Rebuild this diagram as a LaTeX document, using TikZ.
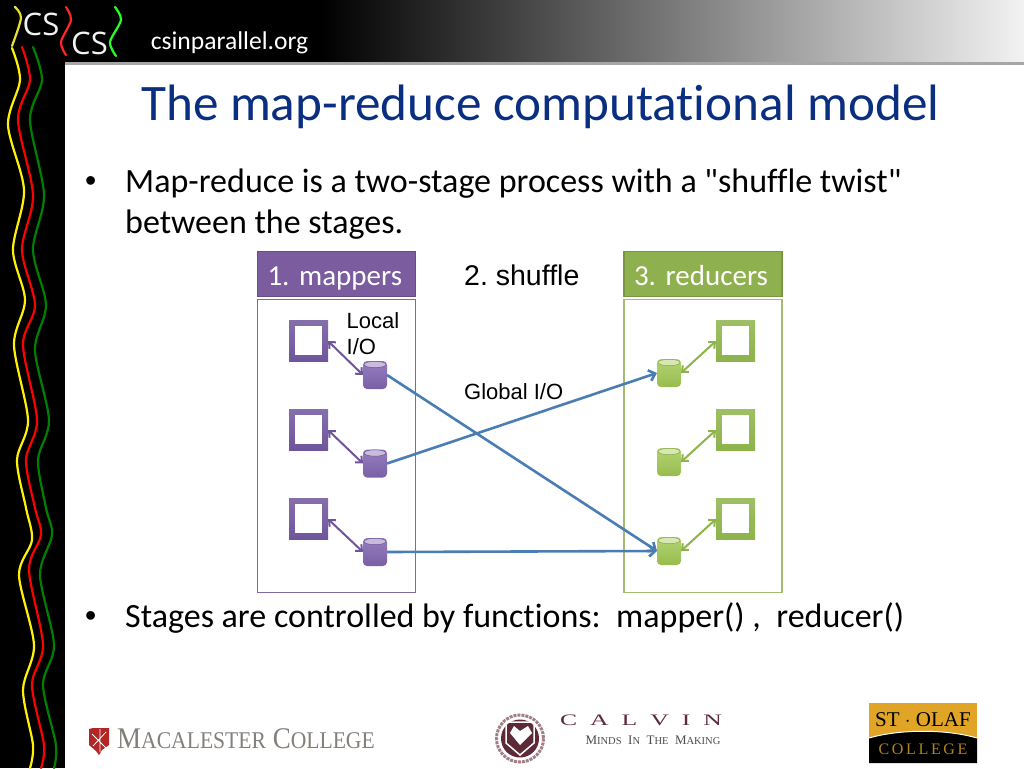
\documentclass[tikz,border=0pt]{standalone}
\usepackage{fontspec}
\setmainfont{Carlito}[Ligatures={TeXOff,NoCommon}]
\newfontfamily\arialfont{Liberation Sans}
\newfontfamily\seriffont{Liberation Serif}
\newfontfamily\logofont{Open Sans}
\usepackage{xcolor}
\usetikzlibrary{positioning,arrows.meta}
\definecolor{titleblue}{HTML}{0B2F80}
\definecolor{mapdark}{HTML}{6F559C}
\definecolor{mapmid}{HTML}{8467B4}
\definecolor{mapline}{HTML}{7D6AA0}
\definecolor{maphead}{HTML}{7A5C9F}
\definecolor{redline}{HTML}{A6BA74}
\definecolor{reddark}{HTML}{8DB34A}
\definecolor{redmid}{HTML}{A5CC57}
\definecolor{redhead}{HTML}{8FB04E}
\definecolor{linkblue}{HTML}{4A7DB3}
\definecolor{macgray}{HTML}{857F7A}
\definecolor{calvinred}{HTML}{5F2A38}
\definecolor{olafgold}{HTML}{E0A526}
\tikzset{
	px/.style={font=\fontsize{#1}{#1}\selectfont, inner sep=0pt},
	bodytext/.style={px=34, anchor=base west, text=black},
	sanstext/.style={font=\arialfont\fontsize{#1}{#1}\selectfont, inner sep=0pt, anchor=base west, text=black},
	panel/.style={draw=#1, line width=1.2pt, fill=white, minimum width=158pt, minimum height=293pt, inner sep=0pt, outer sep=0pt},
	headbox/.style={draw=#1!85!black, line width=1.2pt, fill=#1, minimum width=158pt, minimum height=45pt, font=\fontsize{29}{29}\selectfont, text=white, inner sep=0pt, outer sep=0pt, text width=148pt, align=left, text height=22pt, text depth=0pt, execute at begin node=\hspace*{5pt}},
	framebox/.style={top color=#1!85!white, bottom color=#1, minimum width=39pt, minimum height=41pt, inner sep=0pt, outer sep=0pt,
		path picture={\fill[white] ([shift={(6pt,7pt)}]path picture bounding box.south west) rectangle ([shift={(-6pt,-5pt)}]path picture bounding box.north east);}},
	disk/.style 2 args={rounded corners=4pt, top color=#1!85!white, bottom color=#1!92!black, minimum width=24pt, minimum height=28pt, inner sep=0pt, outer sep=0pt,
		path picture={\filldraw[fill=#2, draw=#1!80!black, line width=0.5pt] ([yshift=-3.5pt]path picture bounding box.north) ellipse[x radius=11pt, y radius=3.2pt];}},
	localio/.style={draw=#1, line width=2pt, {Straight Barb[length=5pt,width=9pt]}-{Straight Barb[length=5pt,width=9pt]}},
	globalio/.style={draw=linkblue, line width=2.6pt, -{Straight Barb[length=6pt,width=11pt]}},
	wavy/.style={draw=#1, line width=2.2pt, line cap=round},
}

\begin{document}
\frenchspacing
\begin{tikzpicture}[x=1pt, y=-1pt]
	\useasboundingbox (0,0) rectangle (1024,768);
	% Slide frame
	\fill[black] (0,0) rectangle (1024,768);
	\fill[white] (65,64) rectangle (1024,768);
	\shade[left color=black, right color=black!5] (320,0) rectangle (1024,62);
	\fill[black!35] (65,62) rectangle (1024,64.5);
	% Coloured wires
	\draw[wavy=yellow!80!gray] plot[smooth] coordinates {(15,7) (21,18) (12,46)};
	\draw[wavy=yellow] plot[smooth] coordinates {(12,48) (20,80) (8,125) (24,190) (13,250) (25,300) (14,345) (28,420) (17,460) (26,508) (32,540) (19,575) (34,645) (23,690) (33,745) (30,768)};
	\draw[wavy=red] plot[smooth] coordinates {(22,47) (30,80) (18,120) (33,195) (22,250) (35,305) (23,345) (37,420) (26,460) (35,508) (41,535) (29,570) (43,645) (32,685) (44,745) (41,768)};
	\draw[wavy=green!50!black] plot[smooth] coordinates {(33,47) (42,80) (30,120) (44,195) (33,250) (46,305) (35,350) (49,420) (38,460) (46,508) (52,535) (40,575) (54,645) (43,685) (56,745) (54,768)};
	\draw[wavy=red!85!white] plot[smooth] coordinates {(66,7) (71,20) (61,42) (66,55)};
	\draw[wavy=green!85!white] plot[smooth] coordinates {(115,7) (121,20) (110,42) (116,56)};
	\node[inner sep=0pt, text=white!90!gray, font=\logofont\fontsize{31}{31}\selectfont] (csA) at (41,24) {CS};
	\node[inner sep=0pt, text=white!90!gray, font=\logofont\fontsize{31}{31}\selectfont] (csB) at (89.5,43) {CS};
	\node[px=25.6, text=white] (site) at (229.5,42.5) {csinparallel.org};
	% Slide text
	\node[px=51.2, anchor=base west, text=titleblue] (title) at (141,120) {The map-reduce computational model};
	\node[sanstext=32] (bulA) at (85,191) {•};
	\node[bodytext] (lineA) at (125,192) {Map-reduce is a two-stage process with a "shuffle twist"};
	\node[bodytext] (lineB) at (125,233) {between the stages.};
	\node[sanstext=32] (bulB) at (85,626) {•};
	\node[bodytext] (lineC) at (125,627) {Stages are controlled by functions:\ \ mapper() ,\ \ reducer()};
	% Define nodes
	\node[headbox=maphead] (maphd) at (336.5,274) {1. mappers};
	\node[panel=mapline, below=3pt of maphd] (mappanel) {};
	\node[headbox=redhead] (redhd) at (703,274) {3. reducers};
	\node[panel=redline, below=3pt of redhd] (redpanel) {};
	\node[framebox=mapdark] (mapA) at (308.5,341) {};
	\node[framebox=mapdark, below=48pt of mapA] (mapB) {};
	\node[framebox=mapdark, below=48pt of mapB] (mapC) {};
	\node[disk={mapmid}{mapmid!45!white}] (mdiskA) at (375,375) {};
	\node[disk={mapmid}{mapmid!45!white}, below=60.5pt of mdiskA] (mdiskB) {};
	\node[disk={mapmid}{mapmid!45!white}, below=60.5pt of mdiskB] (mdiskC) {};
	\node[framebox=reddark] (redA) at (735.5,341) {};
	\node[framebox=reddark, below=48pt of redA] (redB) {};
	\node[framebox=reddark, below=48pt of redB] (redC) {};
	\node[disk={redmid}{redmid!45!white}] (rdiskA) at (669,373) {};
	\node[disk={redmid}{redmid!45!white}, below=61pt of rdiskA] (rdiskB) {};
	\node[disk={redmid}{redmid!45!white}, below=61pt of rdiskB] (rdiskC) {};
	\node[sanstext=28.5] (shuffle) at (464,285) {2. shuffle};
	\node[sanstext=22] (localA) at (346.5,328) {Local};
	\node[sanstext=22] (localB) at (346.5,354) {I/O};
	\node[sanstext=22] (global) at (464,399) {Global I/O};
	% Edges
	\draw[localio=mapdark] (mapA.east) -- (mdiskA.west);
	\draw[localio=mapdark] (mapB.east) -- (mdiskB.west);
	\draw[localio=mapdark] (mapC.east) -- (mdiskC.west);
	\draw[localio=reddark] (redA.west) -- (rdiskA.east);
	\draw[localio=reddark] (redB.west) -- (rdiskB.east);
	\draw[localio=reddark] (redC.west) -- (rdiskC.east);
	\draw[globalio] (mdiskA.east) -- (rdiskC.west);
	\draw[globalio] (mdiskB.east) -- (rdiskA.west);
	\draw[globalio] (mdiskC.east) -- (rdiskC.west);
	% Logos
	\fill[red!65!black!85!white] (89,729) -- (93,728) -- (109,728) -- (109,745) -- (102,750) -- (99,755) -- (96,751) -- (89,745) -- cycle;
	\draw[white, line width=0.8pt] (92,734) -- (106,748) (106,732) -- (93,746) (100,729) -- (100,752);
	\node[inner sep=0pt, anchor=base west, text=macgray, font=\seriffont\fontsize{30}{30}\selectfont] (macl) at (117,748) {\scalebox{.9}[1]{M{\fontsize{24}{24}\selectfont ACALESTER} C{\fontsize{24}{24}\selectfont OLLEGE}}};
	\draw[calvinred!60!white, line width=3pt, densely dotted] (520,738.5) circle[radius=23.5];
	\fill[calvinred] (520,738.5) circle[radius=19];
	\draw[white, line width=1.5pt] (506,722) -- (534,722) -- (534,743) -- (520,755) -- (506,743) -- cycle;
	\fill[white] (520,731) -- (528,726) -- (532,733) -- (520,745) -- (510,733) -- (514,726) -- cycle;
	\node[inner sep=0pt, text=calvinred, font=\seriffont\fontsize{16}{16}\selectfont] (calvin) at (641,720.5) {\scalebox{1.6}[1]{C}\hspace{13pt}\scalebox{1.6}[1]{A}\hspace{13pt}\scalebox{1.6}[1]{L}\hspace{13pt}\scalebox{1.6}[1]{V}\hspace{13pt}\scalebox{1.6}[1]{I}\hspace{13pt}\scalebox{1.6}[1]{N}};
	\node[inner sep=0pt, text=black!70, font=\seriffont\fontsize{13}{13}\selectfont] (minds) at (653,740.5) {M{\fontsize{10.5}{10.5}\selectfont INDS} \ I{\fontsize{10.5}{10.5}\selectfont N} \ T{\fontsize{10.5}{10.5}\selectfont HE} \ M{\fontsize{10.5}{10.5}\selectfont AKING}};
	\fill[olafgold] (869,703) rectangle (977,740);
	\fill[black] (869,763) -- (869,738) .. controls (900,729) and (946,729) .. (977,738) -- (977,763) -- cycle;
	\draw[white, line width=1pt] (869,738) .. controls (900,729) and (946,729) .. (977,738);
	\node[inner sep=0pt, text=black, font=\seriffont\fontsize{21}{21}\selectfont] (olaf) at (923,720) {ST $\cdot$ OLAF};
	\node[inner sep=0pt, text=olafgold!80!black, font=\seriffont\fontsize{16}{16}\selectfont] (college) at (923,749) {C\,O\,L\,L\,E\,G\,E};
\end{tikzpicture}
\end{document}
